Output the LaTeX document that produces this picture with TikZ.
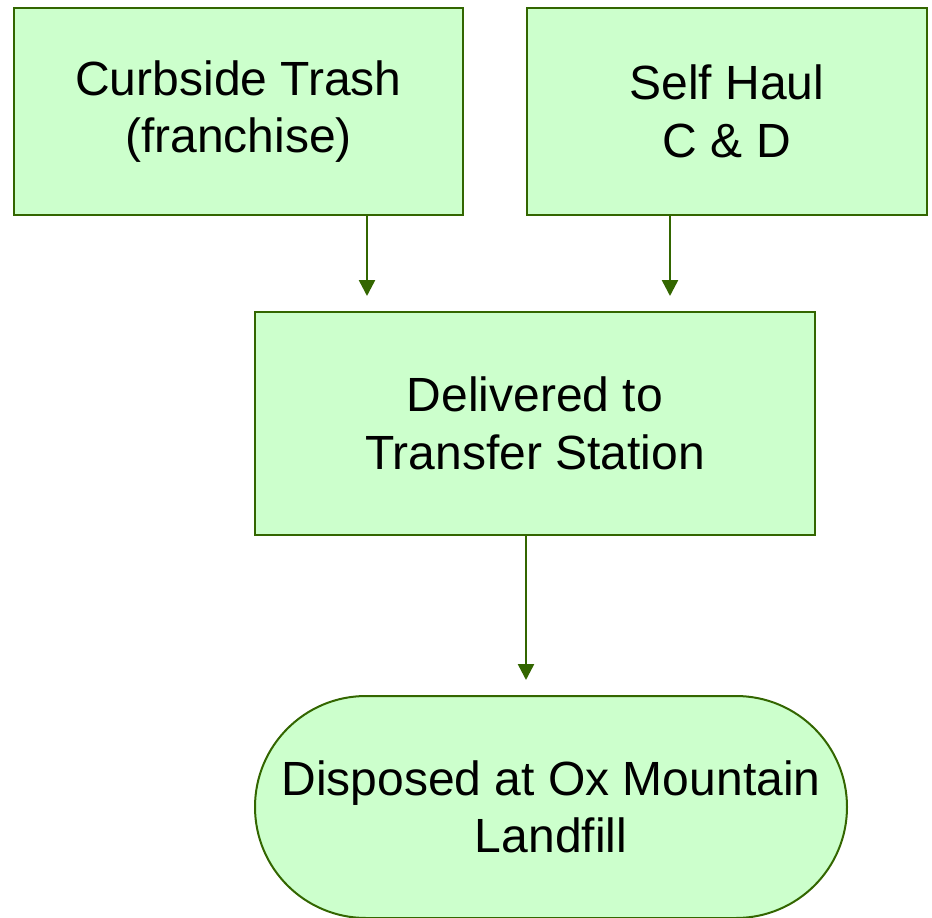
\documentclass[tikz,border=0pt]{standalone}
\usepackage{fontspec}
\setmainfont{Liberation Sans}
\usetikzlibrary{arrows.meta,shapes.misc}
\definecolor{boxfill}{HTML}{CCFFCC}
\definecolor{boxline}{HTML}{336600}
\begin{document}
\begin{tikzpicture}[x=1pt,y=-1pt,
  box/.style={draw=boxline,fill=boxfill,line width=2pt,align=center,inner sep=0pt,
    font=\fontsize{48}{57.6}\selectfont},
  flow/.style={draw=boxline,line width=2.5pt,-{Triangle[width=16pt,length=16pt]}}]
\useasboundingbox (0,0) rectangle (932,918);
\node[box,minimum width=449pt,minimum height=207pt] (curb) at (238.5,111.5) {Curbside Trash\\(franchise)};
\node[box,minimum width=400pt,minimum height=207pt] (self) at (727,111.5) {Self Haul\\C \& D};
\node[box,minimum width=560pt,minimum height=223pt] (deliv) at (535,423.5) {Delivered to\\Transfer Station};
\node[box,rounded rectangle,minimum width=592pt,minimum height=222pt] (disp) at (551,807) {Disposed at Ox Mountain\\Landfill};
\coordinate (a1) at (367,296);
\coordinate (a2) at (670,296);
\coordinate (a3) at (526,680);
\draw[flow] (curb.south -| a1) -- (a1);
\draw[flow] (self.south -| a2) -- (a2);
\draw[flow] (deliv.south -| a3) -- (a3);
\end{tikzpicture}
\end{document}
